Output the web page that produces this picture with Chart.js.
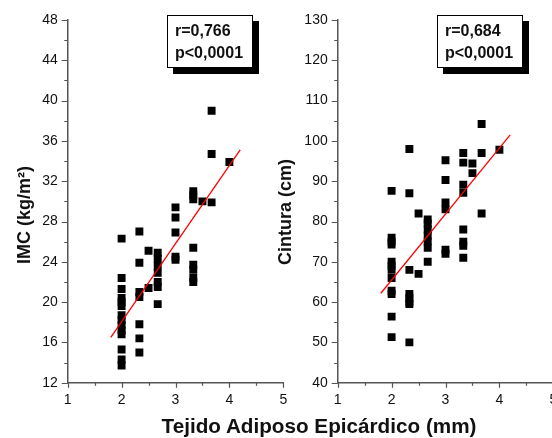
<!DOCTYPE html>
<html>
<head>
<meta charset="utf-8">
<script src="https://cdn.jsdelivr.net/npm/chart.js@4.4.1/dist/chart.umd.min.js"></script>
<style>
body { margin:0; width:552px; height:438px; overflow:hidden; background:#fff; position:relative; font-family:"Liberation Sans", Arial, sans-serif; color:#111; }
canvas { position:absolute; top:0; }
#imcChart { left:0; }
#cinChart { left:270px; }
.ytitle { position:absolute; font-weight:bold; font-size:18px; line-height:1; white-space:nowrap; transform:translate(-50%,-50%) rotate(-90deg); }
.stat { position:absolute; box-sizing:border-box; width:86px; height:53px; border:1px solid #000; box-shadow:6px 6px 0 #000; background:#fff; font-weight:bold; font-size:16px; line-height:21.6px; padding:4.4px 0 0 7px; white-space:nowrap; }
.xtitle { position:absolute; left:319px; top:415.5px; transform:translateX(-50%); font-weight:bold; font-size:20.7px; line-height:1; white-space:nowrap; }
</style>
</head>
<body>
<canvas id="imcChart" width="300" height="438"></canvas>
<canvas id="cinChart" width="300" height="438"></canvas>
<div class="ytitle" style="left:24px; top:215px;">IMC (kg/m²)</div>
<div class="ytitle" style="left:285px; top:212px;">Cintura (cm)</div>
<div class="stat" style="left:167px; top:15px;">r=0,766<br>p&lt;0,0001</div>
<div class="stat" style="left:437px; top:15px;">r=0,684<br>p&lt;0,0001</div>
<div class="xtitle">Tejido Adiposo Epicárdico (mm)</div>
<script>
// epicardial fat thickness levels (mm), shared by both panels
const tejidoLevels = [2, 2.33, 2.5, 2.67, 3, 3.33, 3.5, 3.67, 4];
// IMC values at each level
const imcByLevel = [
    [26.3, 22.4, 21.3, 20.4, 20.0, 19.6, 18.7, 18.2, 17.7, 17.2, 16.8, 15.3, 14.3, 13.7],
    [27.0, 23.9, 21.0, 20.5, 17.8, 16.4, 15.0],
    [25.1, 21.4],
    [24.9, 24.3, 23.6, 22.9, 22.0, 21.5, 19.8],
    [29.4, 28.4, 26.9, 24.5, 24.2],
    [31.0, 30.6, 30.2, 25.4, 23.7, 23.2, 22.4, 22.0],
    [30.0],
    [39.0, 34.7, 29.9],
    [33.9]
];
// cintura values at each level
const cinturaByLevel = [
    [87.6, 76.0, 75.0, 74.3, 70.0, 69.0, 68.0, 66.0, 62.8, 62.0, 56.4, 51.3],
    [98.0, 87.0, 68.0, 62.0, 61.0, 60.0, 59.5, 50.0],
    [82.0, 67.0],
    [80.5, 79.5, 78.0, 76.5, 75.0, 73.5, 70.0],
    [95.2, 90.3, 84.7, 83.0, 73.0, 72.0],
    [97.0, 94.6, 89.1, 87.1, 78.0, 75.0, 74.0, 71.0],
    [94.4, 92.0],
    [104.2, 97.0, 82.0],
    [97.8]
];
// regression lines (end points)
const fitX = [1.8, 4.2];
const imcFit = [16.5, 35.1];
const cinturaFit = [62.2, 101.5];
// axis ticks
const xTicks = [1, 5, 1];          // min, max, step
const imcTicks = [12, 48, 4];
const cinturaTicks = [40, 130, 10];

const axisColor = "#555";
const tickFont = { family: "'Liberation Sans', Arial, sans-serif", size: 14 };

function toPoints(byLevel) {
    let pts = [];
    byLevel.forEach((vals, i) => vals.forEach(v => pts.push({ x: tejidoLevels[i], y: v })));
    return pts;
}

// little outward tick marks, major + minor
const tickMarks = {
    id: "tickMarks",
    afterDraw(chart, args, opts) {
        const ctx = chart.ctx;
        const x = chart.scales.x, y = chart.scales.y;
        ctx.save();
        ctx.strokeStyle = axisColor;
        ctx.lineWidth = 1.2;
        ctx.beginPath();
        for (let v = x.min; v <= x.max + 1e-9; v += opts.xMinor) {
            const px = Math.round(x.getPixelForValue(v)) + 0.5;
            const major = Math.abs(v / opts.xMajor - Math.round(v / opts.xMajor)) < 1e-6;
            ctx.moveTo(px, x.top);
            ctx.lineTo(px, x.top + (major ? 5 : 3));
        }
        for (let v = y.min; v <= y.max + 1e-9; v += opts.yMinor) {
            const py = Math.round(y.getPixelForValue(v)) + 0.5;
            const major = Math.abs(v / opts.yMajor - Math.round(v / opts.yMajor)) < 1e-6;
            ctx.moveTo(y.right, py);
            ctx.lineTo(y.right - (major ? 6 : 3.5), py);
        }
        ctx.stroke();
        ctx.restore();
    }
};

function makeChart(id, byLevel, fitY, yTicks, yMinor) {
    return new Chart(document.getElementById(id), {
        type: "scatter",
        data: {
            datasets: [
                {
                    data: [{ x: fitX[0], y: fitY[0] }, { x: fitX[1], y: fitY[1] }],
                    showLine: true,
                    borderColor: "#ff0000",
                    borderWidth: 1.3,
                    pointRadius: 0,
                    order: 0
                },
                {
                    data: toPoints(byLevel),
                    pointStyle: "rect",
                    pointRadius: 5.6,
                    pointHoverRadius: 5.6,
                    backgroundColor: "#000",
                    borderColor: "#000",
                    borderWidth: 0,
                    order: 1
                }
            ]
        },
        options: {
            responsive: false,
            animation: false,
            layout: { padding: { top: 20, right: 16.7, left: 0, bottom: 0 } },
            plugins: {
                legend: { display: false },
                tooltip: { enabled: false },
                tickMarks: { xMinor: 0.5, xMajor: 1, yMinor: yMinor, yMajor: yTicks[2] }
            },
            scales: {
                x: {
                    type: "linear",
                    min: xTicks[0], max: xTicks[1],
                    ticks: { stepSize: xTicks[2], padding: 9, font: tickFont, color: "#111" },
                    grid: { display: false, drawTicks: false },
                    border: { display: true, color: axisColor, width: 1.5 },
                    afterFit(s) { s.height = 438 - 382.7; }
                },
                y: {
                    min: yTicks[0], max: yTicks[1],
                    ticks: { stepSize: yTicks[2], padding: 10, font: tickFont, color: "#111" },
                    grid: { display: false, drawTicks: false },
                    border: { display: true, color: axisColor, width: 1.5 },
                    afterFit(s) { s.width = 67.7; }
                }
            }
        },
        plugins: [tickMarks]
    });
}

makeChart("imcChart", imcByLevel, imcFit, imcTicks, 2);
makeChart("cinChart", cinturaByLevel, cinturaFit, cinturaTicks, 5);
</script>
</body>
</html>
